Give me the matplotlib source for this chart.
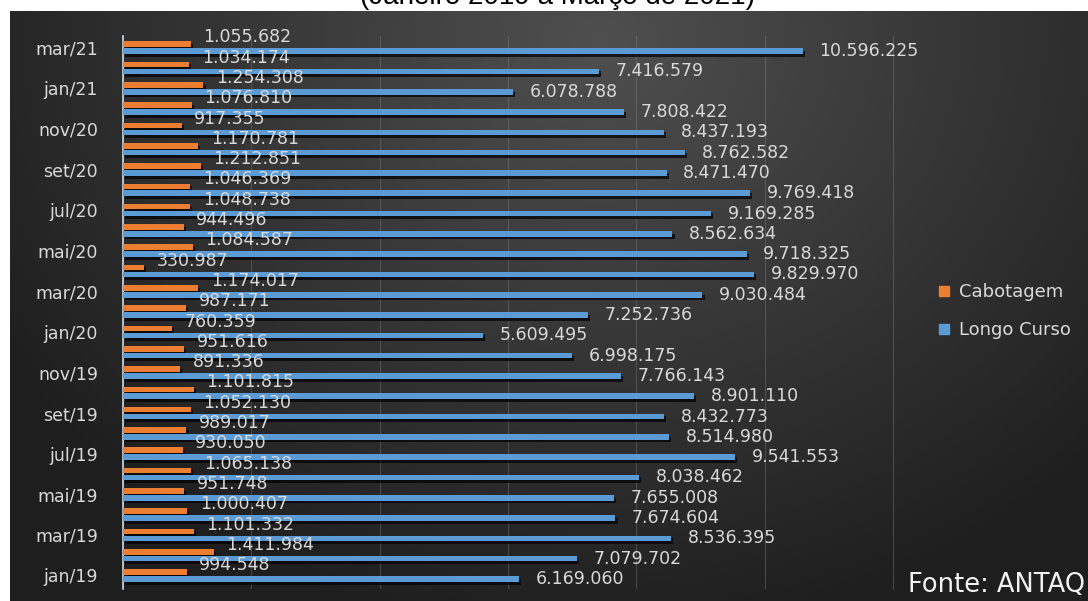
import numpy as np
import matplotlib.pyplot as plt
import matplotlib.patheffects as pe
from matplotlib.lines import Line2D

# months from jan/19 (bottom) to mar/21 (top)
meses = ['jan/19', 'fev/19', 'mar/19', 'abr/19', 'mai/19', 'jun/19', 'jul/19', 'ago/19',
         'set/19', 'out/19', 'nov/19', 'dez/19', 'jan/20', 'fev/20', 'mar/20', 'abr/20',
         'mai/20', 'jun/20', 'jul/20', 'ago/20', 'set/20', 'out/20', 'nov/20', 'dez/20',
         'jan/21', 'fev/21', 'mar/21']

cabotagem = [994548, 1411984, 1101332, 1000407, 951748, 1065138, 930050, 989017,
             1052130, 1101815, 891336, 951616, 760359, 987171, 1174017, 330987,
             1084587, 944496, 1048738, 1046369, 1212851, 1170781, 917355, 1076810,
             1254308, 1034174, 1055682]

longo_curso = [6169060, 7079702, 8536395, 7674604, 7655008, 8038462, 9541553, 8514980,
               8432773, 8901110, 7766143, 6998175, 5609495, 7252736, 9030484, 9829970,
               9718325, 8562634, 9169285, 9769418, 8471470, 8762582, 8437193, 7808422,
               6078788, 7416579, 10596225]

titulo = '(Janeiro 2019 a Março de 2021)'
fonte = 'Fonte: ANTAQ'

W, H = 1088, 601
fig = plt.figure(figsize=(W / 100, H / 100), dpi=100, facecolor='white')

# dark gradient panel
bg = fig.add_axes([10 / W, 0, 1 - 10 / W, (H - 11) / H])
bg.axis('off')
xx, yy = np.meshgrid(np.linspace(10, W, 400), np.linspace(11, H, 250))
r = np.hypot((xx - 600) / 700, (yy - 40) / 600)
c = np.clip(0.31 - 0.19 * r, 0.12, 0.31)
bg.imshow(np.dstack([c, c, c]), extent=[0, 1, 0, 1], aspect='auto', origin='upper')
bg.set_xlim(0, 1)
bg.set_ylim(0, 1)

# title is cut at the top edge, as in the source
fig.text(557 / W, 1 - 4 / H, titulo, ha='center', va='baseline', fontsize=20,
         family='Liberation Sans', color='black')

# plot area
ymin, ymax = -0.65, 26.6
step = 20.3
bot_px = 575.5 + 0.65 * step
top_px = 47.7 - 0.6 * step
ax = fig.add_axes([123 / W, (H - bot_px) / H, 770 / W, (bot_px - top_px) / H])
ax.patch.set_alpha(0)

y = np.arange(len(meses))
h = 0.28
off = 0.17
shadow = [pe.SimplePatchShadow(offset=(1.5, -2), shadow_rgbFace='black', alpha=0.7), pe.Normal()]

b1 = ax.barh(y + off, cabotagem, height=h, color='#ED7D31', label='Cabotagem', zorder=3)
b2 = ax.barh(y - off, longo_curso, height=h, color='#5B9BD5', label='Longo Curso', zorder=3)
for b in list(b1) + list(b2):
    b.set_path_effects(shadow)

def fmt(v):
    return f'{v:,}'.replace(',', '.')

for yi, v in zip(y, cabotagem):
    ax.annotate(fmt(v), (v, yi + off), xytext=(9, 5), textcoords='offset points',
                ha='left', va='center', fontsize=12.5, color='#d9d9d9', zorder=4)
for yi, v in zip(y, longo_curso):
    ax.annotate(fmt(v), (v, yi - off), xytext=(12, 0), textcoords='offset points',
                ha='left', va='center', fontsize=12.5, color='#d9d9d9', zorder=4)

ax.set_xlim(0, 12000000)
ax.set_ylim(ymin, ymax)
ax.set_xticks(np.arange(0, 12000001, 2000000))
ax.xaxis.grid(True, color='#8a8a8a', lw=0.8, alpha=0.35, zorder=0)
# last gridline sits on the right edge of the plot area
ax.axvline(12000000, color='#8a8a8a', lw=0.8, alpha=0.35, zorder=0, clip_on=False)
ax.tick_params(axis='x', length=0, labelbottom=False)
ax.set_yticks(y[::2])
ax.set_yticklabels(meses[::2])
ax.tick_params(axis='y', length=0, pad=18, labelsize=12.5, labelcolor='#d9d9d9')
for s in ['top', 'right', 'bottom']:
    ax.spines[s].set_visible(False)
ax.spines['left'].set_color('#c8d8e8')
ax.spines['left'].set_linewidth(1.2)

handles = [Line2D([], [], marker='s', ls='none', color='#ED7D31', markersize=7),
           Line2D([], [], marker='s', ls='none', color='#5B9BD5', markersize=7)]
fig.legend(handles, ['Cabotagem', 'Longo Curso'], loc='center left',
           bbox_to_anchor=(928 / W, 1 - 311 / H), frameon=False, fontsize=13,
           labelcolor='#d9d9d9', handlelength=0.8, handletextpad=0.4,
           labelspacing=1.1, borderpad=0)

fig.text(1085 / W, 1 - 585 / H, fonte, ha='right', va='center', fontsize=18.5,
         color='#f2f2f2')

fig.savefig('out.png', dpi=100, facecolor='white')
